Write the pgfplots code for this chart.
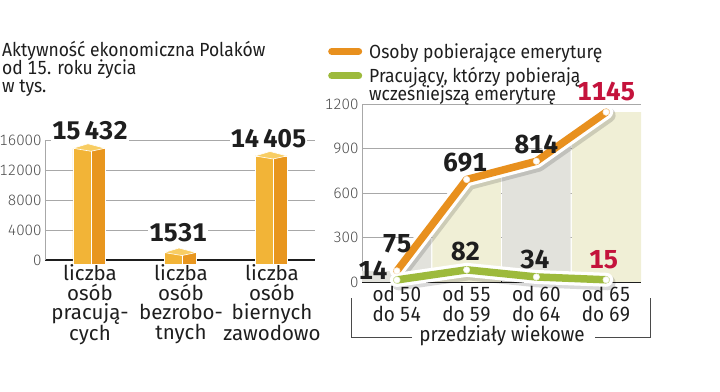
\documentclass[border=0pt]{standalone}
\usepackage{fontspec}
\setmainfont{Fira Sans}[Numbers=Monospaced, UprightFeatures={FakeStretch=0.92}]
\newfontfamily\lightfont{Fira Sans Light}[Numbers=Monospaced]
\newfontfamily\widefont{Fira Sans}[Numbers=Monospaced]
\usepackage{pgfplots}
\pgfplotsset{compat=1.18}
\usepgfplotslibrary{fillbetween}
\definecolor{barfront}{HTML}{F2B437}
\definecolor{barside}{HTML}{E8961E}
\definecolor{bartopc}{HTML}{F8CD63}
\definecolor{orline}{HTML}{E8901E}
\definecolor{grline}{HTML}{9DBA3C}
\definecolor{redv}{HTML}{C4133C}
\definecolor{colgray}{HTML}{E2E2DC}
\definecolor{colyel}{HTML}{F0EFD6}
\definecolor{gridc}{HTML}{A8A8A8}
\definecolor{txt}{HTML}{1E1E1E}
\definecolor{tickc}{HTML}{4A4A4A}
\pgfdeclareplotmark{bartop}{%
  \pgfpathmoveto{\pgfpoint{-17pt}{0pt}}%
  \pgfpathlineto{\pgfpoint{1pt}{-3pt}}%
  \pgfpathlineto{\pgfpoint{15pt}{0pt}}%
  \pgfpathlineto{\pgfpoint{-2pt}{4.5pt}}%
  \pgfpathclose
  \pgfusepath{fill,stroke}}
\newcommand\ttlf{\fontsize{19}{18}\selectfont}
\newcommand\legf{\fontsize{19}{19}\selectfont}
\newcommand\catL{\widefont\fontsize{20.5}{19.5}\selectfont}
\newcommand\catR{\fontsize{20.5}{19.5}\selectfont}
\newcommand\tickf{\lightfont\fontsize{15}{15}\selectfont}
\newcommand\valL{\fontsize{25.5}{25.5}\selectfont\bfseries}
\newcommand\valR{\fontsize{26}{26}\selectfont\bfseries}
\begin{document}
\begin{tikzpicture}
% title
\node[anchor=base west, inner sep=0, text=txt, font=\ttlf] at (2pt,334pt) {Aktywność ekonomiczna Polaków};
\node[anchor=base west, inner sep=0, text=txt, font=\ttlf] at (2pt,316pt) {od 15. roku życia};
\node[anchor=base west, inner sep=0, text=txt, font=\ttlf] at (2pt,298pt) {w tys.};
% ---------------- left panel
\begin{axis}[at={(45pt,131pt)}, anchor=south west, scale only axis,
  width=270pt, height=120pt,
  xmin=-0.4945, xmax=2.4725, ymin=0, ymax=16000, clip=false,
  separate axis lines, axis x line=bottom, axis y line=left,
  x axis line style={-, txt, line width=1.6pt},
  y axis line style={-, gridc, line width=0.8pt},
  major tick length=0pt,
  scaled y ticks=false,
  ytick={0,4000,8000,12000,16000},
  yticklabels={\mbox{0},\mbox{4000},\mbox{8000},\mbox{12000},\mbox{16000}},
  yticklabel style={font=\tickf, text=tickc},
  ymajorgrids, grid style={gridc, line width=0.8pt},
  xtick={0,1,2},
  xticklabels={{liczba\\osób\\pracują-\\cych},{liczba\\osób\\bezrobo-\\tnych},{liczba\\osób\\biernych\\zawodowo}},
  xticklabel style={align=center, font=\catL, text=txt, yshift=-1pt},
]
\addplot[ybar, bar width=18pt, bar shift=-8pt, fill=barfront, draw=white, line width=0.6pt, yshift=-4pt] coordinates {(0,15432) (1,1531) (2,14405)};
\addplot[ybar, bar width=14pt, bar shift=8pt, fill=barside, draw=white, line width=0.6pt, yshift=-4pt] coordinates {(0,15432) (1,1531) (2,14405)};
\addplot[only marks, mark=bartop, mark options={fill=bartopc, draw=white, line width=0.6pt}, yshift=-4pt] coordinates {(0,15432) (1,1531) (2,14405)};
\node[anchor=south, fill=white, inner sep=1pt, font=\valL, text=txt, yshift=3pt] at (axis cs:0,15432) {15\,432};
\node[anchor=south, fill=white, inner sep=1pt, font=\valL, text=txt, yshift=5pt, xshift=-3pt] at (axis cs:1,1531) {1531};
\node[anchor=south, fill=white, inner sep=1pt, font=\valL, text=txt, yshift=3pt, xshift=-3.5pt] at (axis cs:2,14405) {14\,405};
\end{axis}
% ---------------- right panel
\begin{axis}[at={(362pt,109pt)}, anchor=south west, scale only axis,
  width=279pt, height=178pt,
  xmin=-0.5, xmax=3.5, ymin=0, ymax=1200, clip=false, set layers,
  separate axis lines, axis x line=bottom, axis y line=left,
  x axis line style={-, txt, line width=1.6pt},
  y axis line style={-, gridc, line width=0.8pt},
  major tick length=0pt, scaled y ticks=false,
  ytick={0,300,600,900,1200},
  yticklabels={\mbox{0},\mbox{300},\mbox{600},\mbox{900},\mbox{1200}},
  yticklabel style={font=\tickf, text=tickc},
  ymajorgrids, grid style={gridc, line width=0.8pt},
  xtick={0,1,2,3},
  xticklabels={{od 50\\do 54},{od 55\\do 59},{od 60\\do 64},{od 65\\do 69}},
  xticklabel style={align=center, font=\catR, text=txt, yshift=-1pt},
  legend style={at={(-0.1219,1.354)}, anchor=north west, draw=none, fill=none,
    inner sep=0pt, font=\legf, text=txt, row sep=4pt, column sep=5pt, cells={anchor=west}},
  legend cell align=left,
]
\addplot[draw=none, name path=base, forget plot] coordinates {(-0.5,0) (3.5,0)};
\addplot[draw=none, name path=area, forget plot] coordinates {(-0.5,75) (0,75) (1,691) (2,814) (3,1145) (3.5,1145)};
\addplot[colgray, forget plot, on layer=axis background] fill between[of=area and base, soft clip={domain=-0.5:0.49}];
\addplot[colyel, forget plot, on layer=axis background] fill between[of=area and base, soft clip={domain=0.51:1.49}];
\addplot[colgray, forget plot, on layer=axis background] fill between[of=area and base, soft clip={domain=1.51:2.49}];
\addplot[colyel, forget plot, on layer=axis background] fill between[of=area and base, soft clip={domain=2.51:3.5}];
% orange series
\addplot[forget plot, black, opacity=0.15, line width=15pt, line join=round, line cap=round, xshift=2pt, yshift=-3pt] coordinates {(0,75) (1,691) (2,814) (3,1145)};
\addplot[forget plot, white, line width=14pt, line join=round, line cap=round] coordinates {(0,75) (1,691) (2,814) (3,1145)};
\addplot[orline, line width=7.5pt, line join=round, line cap=round, mark=*, mark size=3.2pt,
  mark options={fill=white, draw=white!80!orline, line width=0.6pt},
  legend image code/.code={\draw[orline, line width=7pt, line cap=round] (0pt,0pt) -- (27pt,0pt);}]
  coordinates {(0,75) (1,691) (2,814) (3,1145)};
\addlegendentry{Osoby pobierające emeryturę}
% green series
\addplot[forget plot, black, opacity=0.15, line width=15pt, line join=round, line cap=round, xshift=2pt, yshift=-3pt] coordinates {(0,14) (1,82) (2,34) (3,15)};
\addplot[forget plot, white, line width=14pt, line join=round, line cap=round] coordinates {(0,14) (1,82) (2,34) (3,15)};
\addplot[grline, line width=7.5pt, line join=round, line cap=round, mark=*, mark size=3.2pt,
  mark options={fill=white, draw=white!80!grline, line width=0.6pt},
  legend image code/.code={\draw[grline, line width=7pt, line cap=round] (0pt,0pt) -- (27pt,0pt);}]
  coordinates {(0,14) (1,82) (2,34) (3,15)};
\addlegendentry{\begin{tabular}[t]{@{}l@{}}Pracujący, którzy pobierają\\[-3pt]wcześniejszą emeryturę\end{tabular}}
% value labels
\node[font=\valR, text=txt, xshift=-24pt, yshift=10pt] at (axis cs:0,14) {14};
\node[font=\valR, text=txt, yshift=27.5pt] at (axis cs:0,75) {75};
\node[font=\valR, text=txt, xshift=-1.5pt, yshift=16.5pt] at (axis cs:1,691) {691};
\node[font=\valR, text=txt, yshift=17pt] at (axis cs:2,814) {814};
\node[font=\valR, text=redv, yshift=20.7pt] at (axis cs:3,1145) {1145};
\node[font=\valR, text=txt, xshift=-1pt, yshift=18pt] at (axis cs:1,82) {82};
\node[font=\valR, text=txt, xshift=-1.5pt, yshift=17pt] at (axis cs:2,34) {34};
\node[font=\valR, text=redv, xshift=-2.5pt, yshift=20pt] at (axis cs:3,15) {15};
\end{axis}
% bracket and axis title
\draw[tickc, line width=0.8pt] (412pt,54pt) -- (351pt,54pt) -- (351pt,93pt);
\draw[tickc, line width=0.8pt] (595pt,54pt) -- (650pt,54pt) -- (650pt,93pt);
\node[anchor=base, inner sep=0, font=\catR, text=txt] at (502pt,49pt) {przedziały wiekowe};
\pgfresetboundingbox
\path (0,0) rectangle (720pt,391pt);
\end{tikzpicture}
\end{document}
